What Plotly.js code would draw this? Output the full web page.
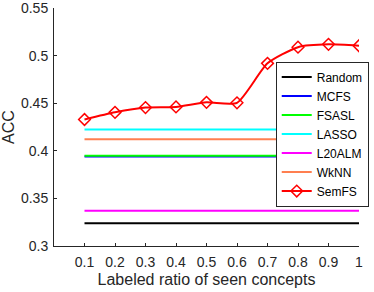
<!DOCTYPE html>
<html><head><meta charset="utf-8">
<script src="https://cdn.plot.ly/plotly-3.0.1.min.js"></script>
<style>html,body{margin:0;padding:0;background:#fff}#c{width:374px;height:292px}</style>
</head><body><div id="c"></div>
<script>
const ratios = [0.1,0.2,0.3,0.4,0.5,0.6,0.7,0.8,0.9,1];
const xTickText = ['0.1','0.2','0.3','0.4','0.5','0.6','0.7','0.8','0.9','1'];
const yTickVals = [0.3,0.35,0.4,0.45,0.5,0.55];
const yTickText = ['0.3','0.35','0.4','0.45','0.5','0.55'];
const randomAcc = 0.324;
const mcfsAcc = 0.394;
const fsaslAcc = 0.395;
const lassoAcc = 0.4225;
const l20almAcc = 0.337;
const wknnAcc = 0.4123;
const semfsAcc = [0.433,0.4405,0.4455,0.4462,0.451,0.4505,0.492,0.509,0.512,0.5105];

const flat = v => ratios.map(() => v);
const mk = (name, y, color) => ({x: ratios, y: y, name: name, mode: 'lines', type: 'scatter',
  line: {color: color, width: 2}});
const data = [
  mk('Random', flat(randomAcc), '#000000'),
  mk('MCFS', flat(mcfsAcc), '#0000ff'),
  mk('FSASL', flat(fsaslAcc), '#00ff00'),
  mk('LASSO', flat(lassoAcc), '#00ffff'),
  mk('L20ALM', flat(l20almAcc), '#ff00ff'),
  mk('WkNN', flat(wknnAcc), '#ff7f50'),
  {x: ratios, y: semfsAcc, name: 'SemFS', mode: 'lines+markers', type: 'scatter',
   line: {color: '#ff0000', width: 2, shape: 'spline', smoothing: 0.6},
   marker: {symbol: 'diamond-open', size: 9, color: '#ff0000', line: {width: 1.5, color: '#ff0000'}}}
];
const fam = 'Liberation Sans, Arial, sans-serif';
const tickFont = {family: fam, size: 14, color: '#262626'};
const layout = {
  width: 374, height: 292,
  margin: {l: 54, r: 5, t: 8, b: 46},
  paper_bgcolor: '#fff', plot_bgcolor: '#fff',
  showlegend: true,
  xaxis: {range: [0, 1], tickvals: ratios, ticktext: xTickText,
    ticks: 'inside', ticklen: 3, tickcolor: '#262626', showgrid: false, zeroline: false,
    showline: true, linecolor: '#262626', linewidth: 1, tickfont: tickFont, ticklabelstandoff: 3,
    ticklabeloverflow: 'allow',
    title: {text: 'Labeled ratio of seen concepts', font: {family: fam, size: 16, color: '#262626'}, standoff: 5}},
  yaxis: {range: [0.3, 0.5502], tickvals: yTickVals, ticktext: yTickText,
    ticks: 'inside', ticklen: 3, tickcolor: '#262626', showgrid: false, zeroline: false,
    showline: true, linecolor: '#262626', linewidth: 1, tickfont: tickFont, ticklabelstandoff: 2,
    ticklabeloverflow: 'allow',
    title: {text: 'ACC', font: {family: fam, size: 16, color: '#262626'}, standoff: 6}},
  legend: {x: 0.727, y: 0.775, xanchor: 'left', yanchor: 'top', bgcolor: '#fff',
    bordercolor: '#262626', borderwidth: 1, font: {family: fam, size: 12, color: '#000'},
    tracegroupgap: 0, itemwidth: 30}
};
Plotly.newPlot('c', data, layout, {displayModeBar: false, staticPlot: true});
</script></body></html>
